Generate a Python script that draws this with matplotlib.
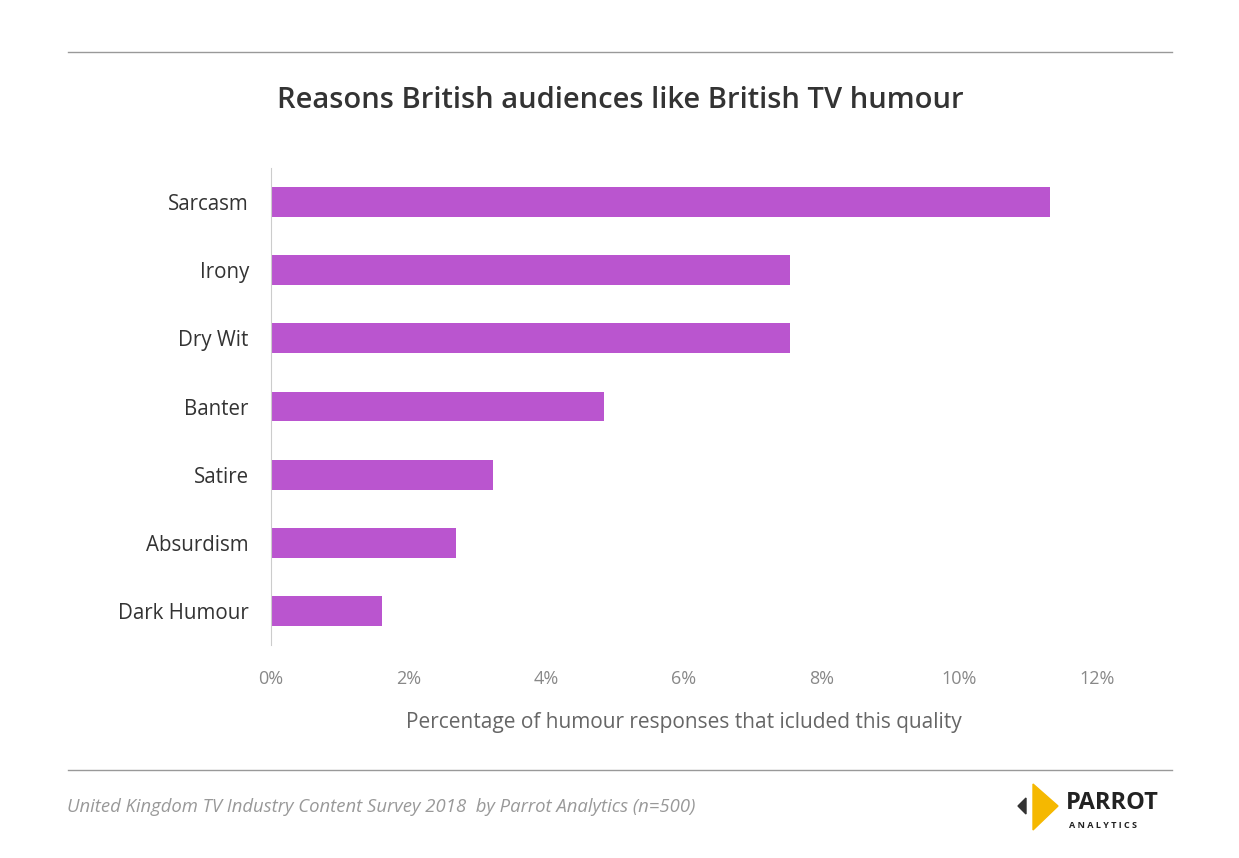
import matplotlib
matplotlib.use("Agg")
import matplotlib.pyplot as plt
from matplotlib.patches import Polygon
from matplotlib.lines import Line2D

categories = ["Sarcasm", "Irony", "Dry Wit", "Banter", "Satire", "Absurdism", "Dark Humour"]
values = [11.31, 7.54, 7.54, 4.84, 3.23, 2.69, 1.61]
ticks = [0, 2, 4, 6, 8, 10, 12]
tick_labels = ["0%", "2%", "4%", "6%", "8%", "10%", "12%"]

plt.rcParams["font.family"] = "Open Sans"
W, H = 1239, 858
fig = plt.figure(figsize=(W/100, H/100), dpi=100)
ax = fig.add_axes([271/W, 1-645/H, (1097-271)/W, (645-168)/H])
ypos = list(range(len(categories)))
ax.barh(ypos, values, height=0.44, color="#BA55CF")
ax.set_ylim(len(categories)-0.5, -0.5)
ax.set_xlim(0, 12)
ax.set_yticks(ypos)
ax.set_yticklabels(categories, fontsize=14.8, color="#333333")
ax.set_xticks(ticks)
ax.set_xticklabels(tick_labels, fontsize=13, color="#888888")
ax.tick_params(length=0)
ax.tick_params(axis="y", pad=16)
ax.tick_params(axis="x", pad=18)
for s in ["top", "right", "bottom"]:
    ax.spines[s].set_visible(False)
ax.spines["left"].set_color("#cccccc")
ax.set_xlabel("Percentage of humour responses that icluded this quality", fontsize=15, color="#666666", labelpad=17)

fig.text(620/W, 1-100/H, "Reasons British audiences like British TV humour", ha="center", va="center",
         fontsize=21, fontweight="semibold", color="#333333")
for y in (52, 770):
    fig.add_artist(Line2D([68/W, 1172/W], [1-y/H, 1-y/H], color="#999999", lw=1))
fig.text(67/W, 1-807/H, "United Kingdom TV Industry Content Survey 2018  by Parrot Analytics (n=500)",
         ha="left", va="center", fontsize=13.3, style="italic", color="#999999")
# logo
fig.add_artist(Polygon([[1018/W, 1-806/H], [1026/W, 1-798/H], [1026/W, 1-814/H]], closed=True,
                       color="#333333", transform=fig.transFigure))
fig.add_artist(Polygon([[1033/W, 1-784/H], [1058/W, 1-806/H], [1033/W, 1-830/H]], closed=True,
                       color="#F5B800", transform=fig.transFigure))
fig.text(1066/W, 1-803/H, "PARROT", ha="left", va="center", fontsize=17, fontweight="bold", color="#222222")
fig.text(1069/W, 1-825/H, "A N A L Y T I C S", ha="left", va="center", fontsize=6.5, fontweight="bold", color="#222222")
fig.savefig("out.png", dpi=100, facecolor="white")
